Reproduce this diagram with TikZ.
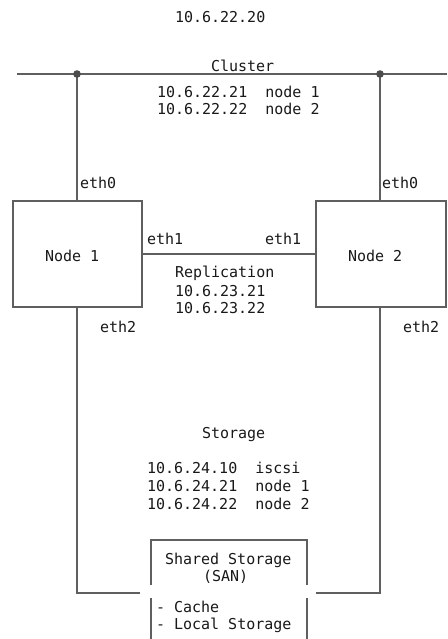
\documentclass[tikz,border=0pt]{standalone}
\usepackage{fontspec}
\setmonofont{DejaVu Sans Mono}
\definecolor{wire}{RGB}{95,95,95}
\definecolor{ink}{RGB}{25,25,25}
\begin{document}
\begin{tikzpicture}[x=1pt,y=-1pt,
  txt/.style={inner sep=0pt,outer sep=0pt,anchor=base west,text=ink,
    font=\ttfamily\fontsize{15}{17}\selectfont},
  box/.style={draw=wire,line width=1.8pt,minimum width=129pt,minimum height=106pt,inner sep=0pt,outer sep=0pt},
  wireln/.style={draw=wire,line width=1.5pt},
  busln/.style={draw=wire,line width=2pt}]
\useasboundingbox[fill=white] (0,0) rectangle (447,639);

% cluster bus
\coordinate (cl) at (17,74);
\coordinate (cr) at (447,74);
\coordinate (d1) at (77,74);
\coordinate (d2) at (380,74);
\draw[busln] (cl) -- (cr);

% nodes
\node[box] (n1) at (77.5,254) {};
\node[box,minimum width=130pt] (n2) at (381,254) {};

\draw[wireln] (d1) -- (n1.north -| d1);
\draw[wireln] (d2) -- (n2.north -| d2);
\fill[wire!80!black] (d1) circle (3.8);
\fill[wire!80!black] (d2) circle (3.8);

% replication
\draw[busln] (n1.east) -- (n2.west);

% storage
\coordinate (s1) at (77,593);
\coordinate (s1e) at (140,593);
\coordinate (s2) at (380,593);
\coordinate (s2e) at (316,593);
\draw[wireln] (n1.south -| s1) -- (s1) -- (s1e);
\draw[wireln] (n2.south -| s2) -- (s2) -- (s2e);

% shared storage box
\coordinate (sa) at (151,585);
\coordinate (sb) at (151,540);
\coordinate (sc) at (307,540);
\coordinate (sd) at (307,585);
\coordinate (se) at (151,598);
\coordinate (sf) at (151,639);
\coordinate (sg) at (307,598);
\coordinate (sh) at (307,639);
\draw[wireln] (sa) -- (sb) -- (sc) -- (sd);
\draw[wireln] (se) -- (sf);
\draw[wireln] (sg) -- (sh);

% texts
\node[txt] (tip) at (175,22.5) {10.6.22.20};
\node[txt] (tcl) at (211,72) {Cluster};
\node[txt] (tcn1) at (157,98) {10.6.22.21\ \ node 1};
\node[txt] (tcn2) at (157,115) {10.6.22.22\ \ node 2};
\node[txt] (e01) at (80,188) {eth0};
\node[txt] (e02) at (382,188) {eth0};
\node[txt] (tn1) at (45,261) {Node 1};
\node[txt] (tn2) at (348,261) {Node 2};
\node[txt] (e11) at (147,244) {eth1};
\node[txt] (e12) at (265,244) {eth1};
\node[txt] (trep1) at (175,277) {Replication};
\node[txt] (trep2) at (175,296) {10.6.23.21};
\node[txt] (trep3) at (175,313) {10.6.23.22};
\node[txt] (e21) at (100,332) {eth2};
\node[txt] (e22) at (403,332) {eth2};
\node[txt] (tst) at (202,438) {Storage};
\node[txt] (tsn1) at (147,473) {10.6.24.10\ \ iscsi};
\node[txt] (tsn2) at (147,491) {10.6.24.21\ \ node 1};
\node[txt] (tsn3) at (147,509) {10.6.24.22\ \ node 2};
\node[txt] (tsan1) at (165,564) {Shared Storage};
\node[txt] (tsan2) at (203,581) {(SAN)};
\node[txt] (tc1) at (156,612) {- Cache};
\node[txt] (tc2) at (156,629) {- Local Storage};
\end{tikzpicture}
\end{document}
